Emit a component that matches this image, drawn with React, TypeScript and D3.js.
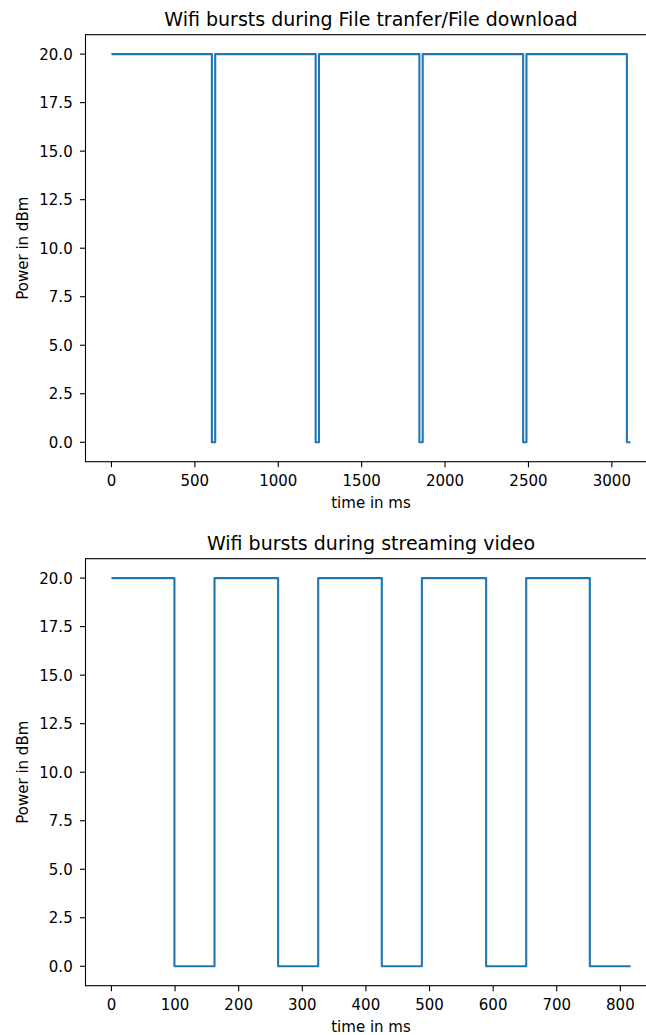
import React from "react";
import * as d3 from "d3";

// Transmit power over time: each pair is (time in ms, power in dBm) at a level change.
const downloadTimes = [0, 602, 622, 1224, 1244, 1846, 1866, 2468, 2488, 3090, 3112];
const downloadPower = [20, 0, 20, 0, 20, 0, 20, 0, 20, 0, 0];

const streamTimes = [0, 99, 162, 262, 325, 425, 488, 589, 652, 752, 816];
const streamPower = [20, 0, 20, 0, 20, 0, 20, 0, 20, 0, 0];

const downloadXTicks = [0, 500, 1000, 1500, 2000, 2500, 3000];
const streamXTicks = [0, 100, 200, 300, 400, 500, 600, 700, 800];
const powerTicks = [0, 2.5, 5, 7.5, 10, 12.5, 15, 17.5, 20];

const W = 646;
const H = 1035;
const FONT = "DejaVu Sans, sans-serif";
const LINE = "#1f77b4";
const TICK_FONT = 15;

type PanelProps = {
  title: string;
  times: number[];
  power: number[];
  xTicks: number[];
  top: number;
};

function Panel({ title, times, power, xTicks, top }: PanelProps) {
  const left = 85.5;
  const width = 571;
  const height = 427;
  const bottom = top + height;

  const tMax = d3.max(times) as number;
  const xPad = tMax * 0.05;
  const x = d3.scaleLinear().domain([-xPad, tMax + xPad]).range([left, left + width]);
  const y = d3.scaleLinear().domain([-1, 21]).range([bottom, top]);

  const pts = times.map((t, i) => [t, power[i]] as [number, number]);
  const path = d3
    .line<[number, number]>()
    .x((d) => x(d[0]))
    .y((d) => y(d[1]))
    .curve(d3.curveStepAfter)(pts) as string;

  const tickLen = 5.5;
  const fmt = d3.format(".1f");

  return (
    <g>
      <text
        x={left + width / 2}
        y={top - 8.5}
        textAnchor="middle"
        fontFamily={FONT}
        fontSize={19}
        fill="#000"
      >
        {title}
      </text>
      <path d={path} fill="none" stroke={LINE} strokeWidth={2.1} strokeLinejoin="round" />
      {powerTicks.map((v) => (
        <g key={"y" + v}>
          <line x1={left - tickLen} x2={left} y1={y(v)} y2={y(v)} stroke="#000" strokeWidth={1.1} />
          <text
            x={left - 12.8}
            y={y(v)}
            dy="0.36em"
            textAnchor="end"
            fontFamily={FONT}
            fontSize={TICK_FONT}
            fill="#000"
          >
            {fmt(v)}
          </text>
        </g>
      ))}
      {xTicks.map((v) => (
        <g key={"x" + v}>
          <line x1={x(v)} x2={x(v)} y1={bottom} y2={bottom + tickLen} stroke="#000" strokeWidth={1.1} />
          <text
            x={x(v)}
            y={bottom + 24.5}
            textAnchor="middle"
            fontFamily={FONT}
            fontSize={TICK_FONT}
            fill="#000"
          >
            {v}
          </text>
        </g>
      ))}
      <rect
        x={left}
        y={top}
        width={width}
        height={height}
        fill="none"
        stroke="#000"
        strokeWidth={1.1}
      />
      <text
        x={left + width / 2}
        y={bottom + 46}
        textAnchor="middle"
        fontFamily={FONT}
        fontSize={TICK_FONT}
        fill="#000"
      >
        time in ms
      </text>
      <text
        transform={`translate(27.5,${top + height / 2}) rotate(-90)`}
        textAnchor="middle"
        fontFamily={FONT}
        fontSize={TICK_FONT}
        fill="#000"
      >
        Power in dBm
      </text>
    </g>
  );
}

export default function App() {
  return (
    <svg
      width={W}
      height={H}
      style={{ position: "absolute", left: 0, top: 0, background: "#fff" }}
    >
      <rect width={W} height={H} fill="#fff" />
      <Panel
        title="Wifi bursts during File tranfer/File download"
        times={downloadTimes}
        power={downloadPower}
        xTicks={downloadXTicks}
        top={34.7}
      />
      <Panel
        title="Wifi bursts during streaming video"
        times={streamTimes}
        power={streamPower}
        xTicks={streamXTicks}
        top={558.7}
      />
    </svg>
  );
}
